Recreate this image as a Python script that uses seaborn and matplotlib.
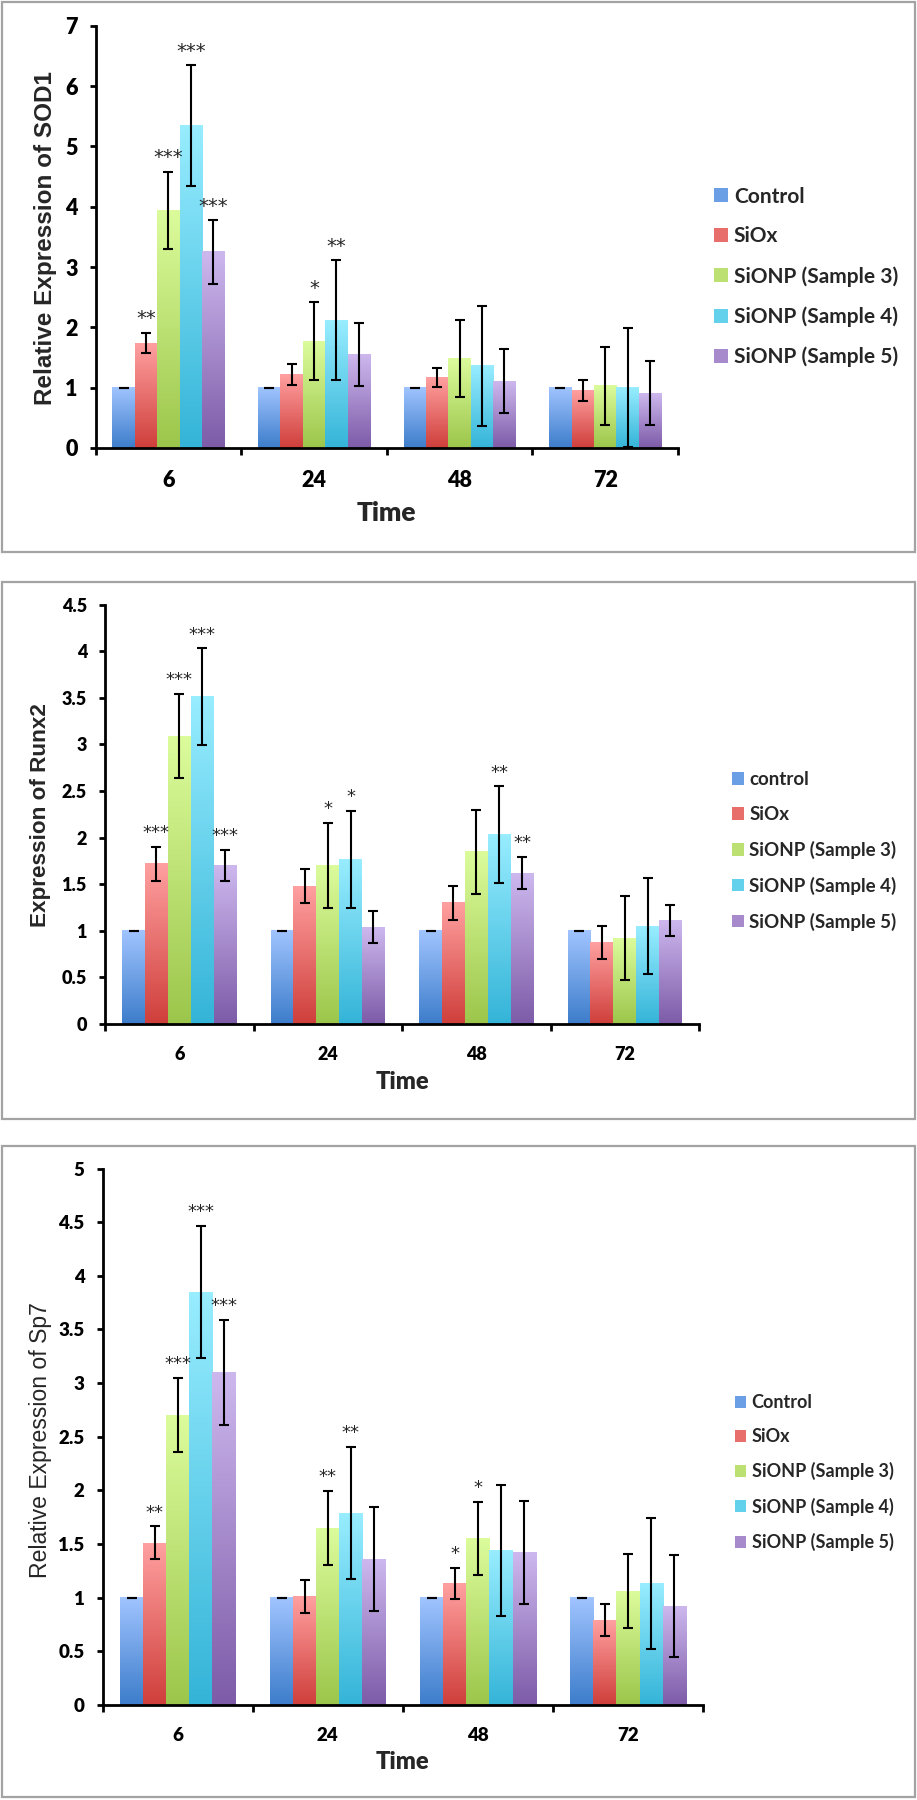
import numpy as np
import pandas as pd
import seaborn as sns
import matplotlib.pyplot as plt
from matplotlib.patches import Patch, Rectangle
from matplotlib.colors import LinearSegmentedColormap
from matplotlib.ticker import MultipleLocator, FixedLocator, FuncFormatter

# data
times = ['6', '24', '48', '72']
groups = ['Control', 'SiOx', 'SiONP (Sample 3)', 'SiONP (Sample 4)', 'SiONP (Sample 5)']
groups_runx2 = ['control', 'SiOx', 'SiONP (Sample 3)', 'SiONP (Sample 4)', 'SiONP (Sample 5)']

sod1_mean = [[1.00, 1.00, 1.00, 1.00],
             [1.74, 1.22, 1.17, 0.95],
             [3.94, 1.77, 1.48, 1.03],
             [5.35, 2.12, 1.36, 1.00],
             [3.25, 1.55, 1.11, 0.91]]
sod1_err = [[0.00, 0.00, 0.00, 0.00],
            [0.17, 0.17, 0.16, 0.17],
            [0.64, 0.65, 0.64, 0.65],
            [1.00, 0.99, 1.00, 0.99],
            [0.53, 0.53, 0.535, 0.53]]
sod1_stars = [['', '', '', ''],
              ['**', '', '', ''],
              ['***', '*', '', ''],
              ['***', '**', '', ''],
              ['***', '', '', '']]

runx2_mean = [[1.00, 1.00, 1.00, 1.00],
              [1.72, 1.48, 1.30, 0.87],
              [3.09, 1.70, 1.85, 0.92],
              [3.51, 1.77, 2.03, 1.05],
              [1.70, 1.04, 1.62, 1.11]]
runx2_err = [[0.00, 0.00, 0.00, 0.00],
             [0.18, 0.18, 0.185, 0.177],
             [0.45, 0.455, 0.45, 0.45],
             [0.52, 0.52, 0.52, 0.515],
             [0.17, 0.17, 0.17, 0.17]]
runx2_stars = [['', '', '', ''],
               ['***', '', '', ''],
               ['***', '*', '', ''],
               ['***', '*', '**', ''],
               ['***', '', '**', '']]

sp7_mean = [[1.00, 1.00, 1.00, 1.00],
            [1.51, 1.01, 1.13, 0.79],
            [2.70, 1.65, 1.55, 1.06],
            [3.85, 1.79, 1.44, 1.13],
            [3.10, 1.36, 1.42, 0.92]]
sp7_err = [[0.00, 0.00, 0.00, 0.00],
           [0.153, 0.153, 0.147, 0.153],
           [0.345, 0.345, 0.343, 0.345],
           [0.615, 0.615, 0.612, 0.614],
           [0.487, 0.485, 0.483, 0.477]]
sp7_stars = [['', '', '', ''],
             ['**', '', '*', ''],
             ['***', '**', '*', ''],
             ['***', '**', '', ''],
             ['***', '', '', '']]

# excel style gradients (bottom, top)
grad_colors = [('#3d7dcb', '#a0c4ff'),
               ('#cf3f3b', '#ffa0a0'),
               ('#9cc64b', '#dcfc9c'),
               ('#34b4d8', '#98edff'),
               ('#7d5ba8', '#cdb8ee')]
mid_colors = ['#6a9fe6', '#e86e6b', '#bde073', '#63d0ec', '#a68acb']

sns.set_theme(style='white')
plt.rcParams['font.family'] = ['Lato', 'DejaVu Sans']

W, H = 917, 1800
fig = plt.figure(figsize=(W / 100, H / 100), dpi=100)


def px_rect(left, top, right, bottom):
    return [left / W, 1 - bottom / H, (right - left) / W, (bottom - top) / H]


def draw_panel(box, rect, means, errs, stars, labels, ymax, ystep, ylabel, ylab_xy, ylab_size,
               ylab_weight, time_xy, time_size, tick_size, leg_anchor, leg_size, leg_space, star_size):
    # panel frame
    fig.add_artist(Rectangle((box[0] / W, 1 - box[3] / H), (box[2] - box[0]) / W, (box[3] - box[1]) / H,
                             transform=fig.transFigure, fill=False, edgecolor='#a3a3a3', linewidth=1.6))
    ax = fig.add_axes(px_rect(*rect))
    df = pd.DataFrame({'time': np.tile(times, len(labels)),
                       'group': np.repeat(labels, len(times)),
                       'value': np.array(means).ravel()})
    sns.barplot(data=df, x='time', y='value', hue='group', order=times, hue_order=labels,
                palette=mid_colors, width=0.77, errorbar=None, saturation=1, legend=False, ax=ax)

    bar_sets = list(ax.containers)[:len(labels)]
    for i, cont in enumerate(bar_sets):
        cmap = LinearSegmentedColormap.from_list('g%d' % i, grad_colors[i])
        xs, ys = [], []
        for j, bar in enumerate(cont):
            x0, w, h = bar.get_x(), bar.get_width(), bar.get_height()
            bar.set_facecolor('none')
            bar.set_edgecolor('none')
            ax.imshow(np.linspace(0, 1, 128).reshape(-1, 1), extent=[x0, x0 + w, 0, h], origin='lower',
                      aspect='auto', cmap=cmap, interpolation='bilinear', zorder=1.5)
            xs.append(x0 + w / 2)
            ys.append(h)
        ax.errorbar(xs, ys, yerr=errs[i], fmt='none', ecolor='black', elinewidth=1.5,
                    capsize=3.3, capthick=1.5, zorder=3)
        for j in range(len(times)):
            if stars[i][j]:
                ax.annotate(stars[i][j], (xs[j], ys[j] + errs[i][j]), xytext=(0, 10),
                            textcoords='offset points', ha='center', va='center',
                            fontsize=star_size, family=['DejaVu Sans'], zorder=4)

    ax.set_xlim(-0.5, len(times) - 0.5)
    ax.set_ylim(0, ymax)
    ax.yaxis.set_major_locator(MultipleLocator(ystep))
    ax.yaxis.set_major_formatter(FuncFormatter(lambda v, p: '%g' % v))
    ax.xaxis.set_minor_locator(FixedLocator(np.arange(-0.5, len(times), 1.0)))
    for s in ['top', 'right']:
        ax.spines[s].set_visible(False)
    for s in ['left', 'bottom']:
        ax.spines[s].set_color('black')
        ax.spines[s].set_linewidth(2)
    ax.tick_params(axis='y', which='major', left=True, length=4, width=2, color='black',
                   pad=9, labelsize=tick_size)
    ax.tick_params(axis='x', which='major', bottom=True, length=0, pad=16, labelsize=tick_size)
    ax.tick_params(axis='x', which='minor', bottom=True, length=5, width=2, color='black')
    for t in ax.get_xticklabels() + ax.get_yticklabels():
        t.set_fontweight('heavy')
        t.set_color('black')
    ax.set_xlabel('')
    ax.set_ylabel('')

    fig.text(ylab_xy[0] / W, 1 - ylab_xy[1] / H, ylabel, rotation=90, ha='center', va='center',
             fontsize=ylab_size, fontweight=ylab_weight, family=['Liberation Sans', 'DejaVu Sans'])
    fig.text(time_xy[0] / W, 1 - time_xy[1] / H, 'Time', ha='center', va='center',
             fontsize=time_size, fontweight='heavy')

    handles = [Patch(facecolor=mid_colors[i], edgecolor='none', label=labels[i]) for i in range(len(labels))]
    leg = fig.legend(handles=handles, loc='center left',
                     bbox_to_anchor=(leg_anchor[0] / W, 1 - leg_anchor[1] / H),
                     frameon=False, fontsize=leg_size, handlelength=0.65, handleheight=0.65,
                     handletextpad=0.3, labelspacing=leg_space, borderpad=0, borderaxespad=0)
    for t in leg.get_texts():
        t.set_fontweight('bold')
    return ax


draw_panel(box=(2, 2, 915, 552), rect=(95.7, 25.7, 678, 448),
           means=sod1_mean, errs=sod1_err, stars=sod1_stars, labels=groups,
           ymax=7, ystep=1, ylabel='Relative Expression of SOD1', ylab_xy=(46, 238),
           ylab_size=17.5, ylab_weight='bold', time_xy=(386, 513), time_size=19,
           tick_size=15.5, leg_anchor=(714, 277), leg_size=15, leg_space=0.95, star_size=14)

draw_panel(box=(2, 582, 915, 1119), rect=(105, 604.7, 699, 1024),
           means=runx2_mean, errs=runx2_err, stars=runx2_stars, labels=groups_runx2,
           ymax=4.5, ystep=0.5, ylabel='Expression of Runx2', ylab_xy=(41, 815),
           ylab_size=16.2, ylab_weight='bold', time_xy=(402, 1082), time_size=17,
           tick_size=13, leg_anchor=(731.5, 851), leg_size=13.5, leg_space=0.95, star_size=13)

draw_panel(box=(2, 1146, 915, 1797), rect=(102.7, 1168.6, 703, 1704.8),
           means=sp7_mean, errs=sp7_err, stars=sp7_stars, labels=groups,
           ymax=5, ystep=0.5, ylabel='Relative Expression of Sp7', ylab_xy=(41, 1440),
           ylab_size=16.6, ylab_weight='normal', time_xy=(402, 1762), time_size=17,
           tick_size=13.5, leg_anchor=(734.5, 1472.5), leg_size=13, leg_space=0.95, star_size=13)

fig.savefig('out.png', dpi=100)
